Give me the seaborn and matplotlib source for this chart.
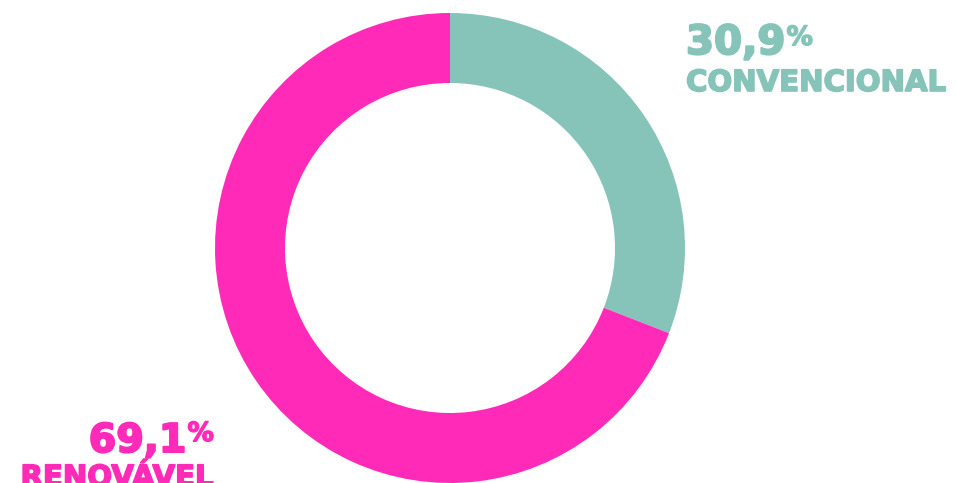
import matplotlib
matplotlib.use("Agg")
import matplotlib.pyplot as plt
import matplotlib.patheffects as pe
import seaborn as sns

# Data
categories = ["CONVENCIONAL", "RENOVÁVEL"]
shares = [30.9, 69.1]
value_labels = ["30,9", "69,1"]
colors = ["#86C4BA", "#FF2AB7"]

sns.set_theme(style="white")
plt.rcParams["font.family"] = ["DejaVu Sans"]

W, H = 956, 483
fig = plt.figure(figsize=(W / 100, H / 100), dpi=100)
fig.patch.set_facecolor("white")

cx, cy, R, r_in = 450, 248, 235, 165
ax = fig.add_axes([(cx - R) / W, (H - cy - R) / H, 2 * R / W, 2 * R / H])
wedges, _ = ax.pie(shares, colors=colors, startangle=90, counterclock=False,
                   radius=1, wedgeprops=dict(width=(R - r_in) / R, edgecolor="none", linewidth=0))
for w in wedges:
    w.set_clip_on(False)
ax.set_xlim(-1, 1)
ax.set_ylim(-1, 1)
ax.set_aspect("equal")
ax.axis("off")


def px(x, y):
    return x / W, 1 - y / H


def heavy(c, lw=1.2):
    return [pe.withStroke(linewidth=lw, foreground=c)]


fw = "bold"
renderer = fig.canvas.get_renderer()

# Top-right label (CONVENCIONAL)
t1 = fig.text(*px(686, 54), value_labels[0], color=colors[0], fontsize=29, fontweight=fw,
              ha="left", va="baseline", path_effects=heavy(colors[0], 1.5))
x_end = t1.get_window_extent(renderer).x1
fig.text(*px(x_end + 1, 45), "%", color=colors[0], fontsize=19, fontweight=fw,
         ha="left", va="baseline", path_effects=heavy(colors[0], 1.0))
fig.text(*px(686, 91), categories[0], color=colors[0], fontsize=21, fontweight=fw,
         ha="left", va="baseline", path_effects=heavy(colors[0], 1.2))

# Bottom-left label (RENOVÁVEL)
p2 = fig.text(*px(214, 441), "%", color=colors[1], fontsize=19, fontweight=fw,
              ha="right", va="baseline", path_effects=heavy(colors[1], 1.0))
x_start = p2.get_window_extent(renderer).x0
fig.text(*px(x_start - 1, 452), value_labels[1], color=colors[1], fontsize=28.5, fontweight=fw,
         ha="right", va="baseline", path_effects=heavy(colors[1], 1.5))
fig.text(*px(213, 486), categories[1], color=colors[1], fontsize=21, fontweight=fw,
         ha="right", va="baseline", path_effects=heavy(colors[1], 1.2))

fig.savefig("out.png", dpi=100, facecolor="white")
